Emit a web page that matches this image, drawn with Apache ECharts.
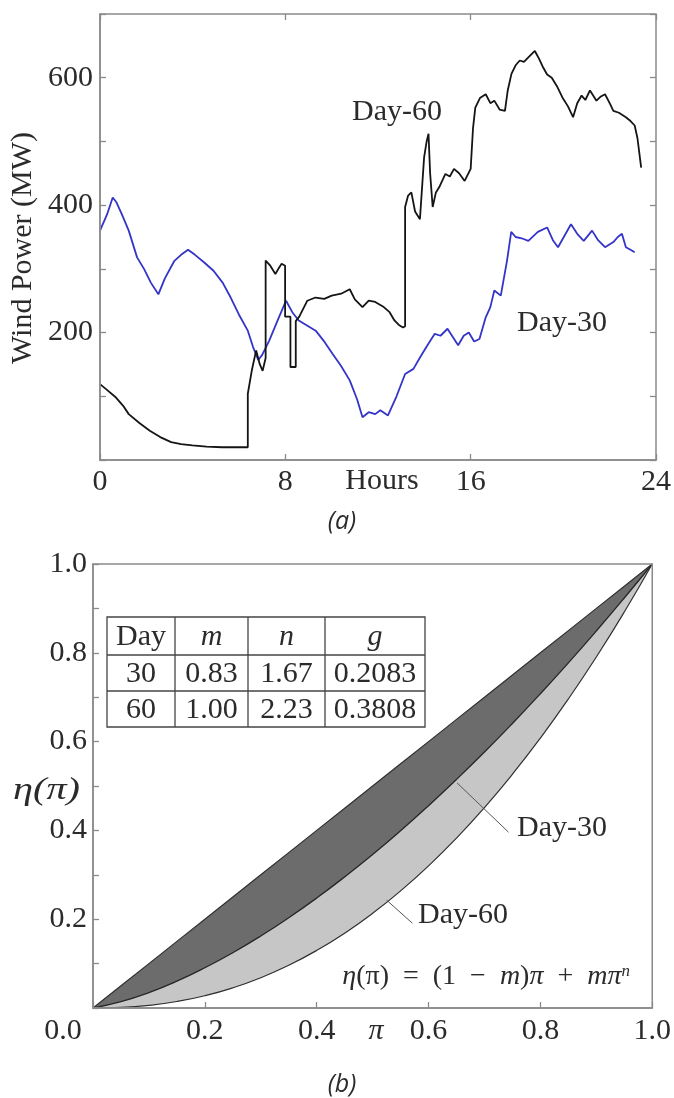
<!DOCTYPE html>
<html><head><meta charset="utf-8">
<script src="https://cdn.jsdelivr.net/npm/echarts@6/dist/echarts.min.js"></script>
<style>html,body{margin:0;padding:0;background:#fff}#c{width:674px;height:1098px}</style>
</head><body><div id="c"></div>
<script>
// ---- Panel (a): wind power over a day ----
const hourTicks = [0, 8, 16, 24];
const powerTickLabels = [200, 400, 600];
const day30Hours = [0,0.3,0.55,0.7,0.95,1.24,1.6,1.9,2.2,2.52,2.8,3.2,3.5,3.8,4.1,4.5,4.9,5.3,5.64,6.0,6.38,6.6,6.83,7.0,7.3,7.7,8.03,8.3,8.58,8.9,9.31,9.7,10.05,10.4,10.78,11.1,11.33,11.6,11.88,12.1,12.43,12.8,13.17,13.53,13.8,14.08,14.45,14.7,15.0,15.25,15.46,15.7,15.92,16.15,16.38,16.65,16.85,17.02,17.3,17.57,17.75,17.94,18.2,18.49,18.9,19.3,19.55,19.77,20.05,20.33,20.6,20.88,21.24,21.5,21.8,22.16,22.35,22.53,22.7,22.9,23.08];
const day30Power = [360,385,412,405,385,360,318,300,278,260,285,312,322,330,322,310,297,278,255,228,203,178,157,165,187,222,250,232,219,212,203,185,166,148,125,95,67,75,72,78,70,100,135,143,160,177,198,195,206,192,180,195,200,186,190,224,240,266,258,313,358,350,348,344,358,365,345,334,352,370,355,344,360,345,334,342,350,355,334,330,326];
const day60Hours = [0,0.3,0.69,1.0,1.24,1.7,2.15,2.6,3.07,3.5,3.99,4.6,5.27,5.9,6.38,6.38,6.55,6.74,6.9,7.02,7.15,7.15,7.35,7.57,7.7,7.84,7.99,7.99,8.22,8.22,8.45,8.45,8.6,8.95,9.3,9.68,10.0,10.41,10.78,11.0,11.33,11.6,11.88,12.25,12.5,12.71,12.9,13.08,13.17,13.17,13.3,13.44,13.6,13.81,13.99,14.1,14.18,14.25,14.36,14.5,14.64,14.91,15.1,15.28,15.5,15.74,16.0,16.1,16.2,16.4,16.65,16.85,17.02,17.25,17.48,17.6,17.76,17.95,18.12,18.3,18.49,18.77,18.95,19.13,19.3,19.5,19.75,19.96,20.2,20.42,20.6,20.79,20.95,21.15,21.43,21.6,21.8,22.0,22.16,22.4,22.7,22.9,23.08,23.2,23.36];
const day60Power = [119,110,98,85,72,58,46,36,28,25,23,21,20,20,20,104,140,172,150,140,160,313,305,292,300,308,305,225,225,146,146,218,225,250,255,253,258,261,268,252,240,250,248,240,232,219,212,208,210,397,415,420,390,378,475,500,512,450,397,420,428,449,445,457,450,438,457,520,553,568,574,560,564,550,548,580,606,620,627,625,632,642,630,616,605,600,585,569,555,538,560,572,565,580,564,570,574,560,548,545,538,532,525,505,459];

// ---- Panel (b): eta(pi) curves ----
const piValues = [0,0.05,0.1,0.15,0.2,0.25,0.3,0.35,0.4,0.45,0.5,0.55,0.6,0.65,0.7,0.75,0.8,0.85,0.9,0.95,1.0];
const etaEquality = [0,0.05,0.1,0.15,0.2,0.25,0.3,0.35,0.4,0.45,0.5,0.55,0.6,0.65,0.7,0.75,0.8,0.85,0.9,0.95,1.0];
const etaDay30 = [0,0.0141,0.0347,0.0604,0.0906,0.1245,0.1621,0.2033,0.2477,0.2953,0.3458,0.3993,0.4557,0.5148,0.5765,0.6409,0.7078,0.7772,0.8491,0.9234,1.0];
const etaDay60 = [0,0.0013,0.0059,0.0146,0.0276,0.0454,0.0682,0.0962,0.1296,0.1685,0.2132,0.2637,0.3201,0.3826,0.4514,0.5265,0.6080,0.6960,0.7906,0.8919,1.0];
const etaTickLabels = ['0.2', '0.4', '0.6', '0.8', '1.0'];
const tableHeader = ['Day', 'm', 'n', 'g'];
const tableRows = [['30', '0.83', '1.67', '0.2083'], ['60', '1.00', '2.23', '0.3808']];

const SERIF = '"Liberation Serif", "DejaVu Serif", serif';
const AX = '#8a8a8a', TXT = '#2b2b2b';
const FS = 30;

const zip = (a, b) => a.map((v, i) => [v, b[i]]);

const chart = echarts.init(document.getElementById('c'), null, {renderer: 'canvas'});

// table graphic
const colX = [107, 175, 248, 325, 425];
const rowY = [617, 655, 691, 727];
const tableEls = [];
tableEls.push({type: 'rect', shape: {x: colX[0], y: rowY[0], width: colX[4] - colX[0], height: rowY[3] - rowY[0]}, style: {fill: '#fff', stroke: '#444', lineWidth: 1.3}, z: 10});
for (let i = 1; i < colX.length - 1; i++) tableEls.push({type: 'line', shape: {x1: colX[i], y1: rowY[0], x2: colX[i], y2: rowY[3]}, style: {stroke: '#444', lineWidth: 1.3}, z: 11});
for (let j = 1; j < rowY.length - 1; j++) tableEls.push({type: 'line', shape: {x1: colX[0], y1: rowY[j], x2: colX[4], y2: rowY[j]}, style: {stroke: '#444', lineWidth: 1.3}, z: 11});
const allRows = [tableHeader].concat(tableRows);
allRows.forEach((row, r) => {
  row.forEach((cell, c) => {
    const italic = r === 0 && c > 0;
    tableEls.push({type: 'text', z: 12, x: (colX[c] + colX[c + 1]) / 2, y: (rowY[r] + rowY[r + 1]) / 2 + 1,
      style: {text: cell, fontSize: FS, fontFamily: SERIF, fontStyle: italic ? 'italic' : 'normal', fill: TXT,
        align: 'center', verticalAlign: 'middle', textAlign: 'center', textVerticalAlign: 'middle'}});
  });
});

function txt(x, y, text, opts, extra) {
  return Object.assign({type: 'text', x: x, y: y, z: 20,
    style: Object.assign({text: text, fontSize: FS, fontFamily: SERIF, fill: TXT, align: 'center', verticalAlign: 'middle', textAlign: 'center', textVerticalAlign: 'middle'}, opts || {})}, extra || {});
}

function tick() { return {show: true, inside: true, length: 6, lineStyle: {color: AX, width: 1.3}}; }
function lbl(o) { return Object.assign({fontSize: FS, fontFamily: SERIF, color: TXT}, o); }
const mainLine = () => ({show: true, onZero: false, lineStyle: {color: AX, width: 1.5}});
const hiddenLine = () => ({show: false, onZero: false});

const option = {
  backgroundColor: '#fff',
  animation: false,
  grid: [
    {left: 100, top: 14, width: 563, height: 446, show: true, borderColor: AX, borderWidth: 1.5, backgroundColor: 'transparent', z: 10},
    {left: 93, top: 564, width: 564, height: 444, show: true, borderColor: AX, borderWidth: 1.5, backgroundColor: 'transparent', z: 10}
  ],
  xAxis: [
    {gridIndex: 0, type: 'value', min: 0, max: 24, interval: 8, position: 'bottom', z: 10,
      axisLine: mainLine(), axisTick: tick(),
      axisLabel: lbl({margin: 7, formatter: v => hourTicks.includes(v) ? String(v) : ''}),
      splitLine: {show: false}},
    {gridIndex: 0, type: 'value', min: 0, max: 24, interval: 8, position: 'top', z: 10,
      axisLine: hiddenLine(), axisTick: tick(), axisLabel: {show: false}, splitLine: {show: false}},
    {gridIndex: 1, type: 'value', min: 0, max: 1, interval: 0.2, position: 'bottom', z: 10,
      axisLine: mainLine(), axisTick: tick(),
      axisLabel: lbl({margin: 8,
        formatter: v => v === 0 ? '{z|0.0}' : v.toFixed(1),
        rich: {z: {fontSize: FS, fontFamily: SERIF, color: TXT, padding: [0, 60, 0, 0]}}}),
      splitLine: {show: false}}
  ],
  yAxis: [
    {gridIndex: 0, type: 'value', min: 0, max: 700, interval: 100, position: 'left', z: 10,
      axisLine: mainLine(), axisTick: tick(),
      axisLabel: lbl({margin: 7, formatter: v => powerTickLabels.includes(v) ? String(v) : ''}),
      splitLine: {show: false}},
    {gridIndex: 0, type: 'value', min: 0, max: 700, interval: 100, position: 'right', z: 10,
      axisLine: hiddenLine(), axisTick: tick(), axisLabel: {show: false}, splitLine: {show: false}},
    {gridIndex: 1, type: 'value', min: 0, max: 1, interval: 0.1, position: 'left', z: 10,
      axisLine: mainLine(), axisTick: tick(),
      axisLabel: lbl({margin: 6, formatter: v => etaTickLabels.includes(v.toFixed(1)) ? v.toFixed(1) : ''}),
      splitLine: {show: false}}
  ],
  series: [
    {name: 'Day-30', type: 'line', xAxisIndex: 0, yAxisIndex: 0, data: zip(day30Hours, day30Power), showSymbol: false,
      lineStyle: {color: '#3434c8', width: 1.8}, z: 3},
    {name: 'Day-60', type: 'line', xAxisIndex: 0, yAxisIndex: 0, data: zip(day60Hours, day60Power), showSymbol: false,
      lineStyle: {color: '#151515', width: 1.8}, z: 4},
    {name: 'equality', type: 'line', xAxisIndex: 2, yAxisIndex: 2, data: zip(piValues, etaEquality), showSymbol: false,
      lineStyle: {color: '#303030', width: 1.2}, areaStyle: {color: '#6c6c6c', opacity: 1}, z: 2},
    {name: 'eta Day-30', type: 'line', xAxisIndex: 2, yAxisIndex: 2, data: zip(piValues, etaDay30), showSymbol: false, smooth: true,
      lineStyle: {color: '#262626', width: 1.3}, areaStyle: {color: '#c6c6c6', opacity: 1}, z: 3},
    {name: 'eta Day-60', type: 'line', xAxisIndex: 2, yAxisIndex: 2, data: zip(piValues, etaDay60), showSymbol: false, smooth: true,
      lineStyle: {color: '#303030', width: 1.2}, areaStyle: {color: '#ffffff', opacity: 1}, z: 4,
      markLine: {silent: true, symbol: 'none', animation: false, label: {show: false},
        lineStyle: {color: '#555', width: 1, type: 'solid'},
        data: [
          [{coord: [0.651, 0.507]}, {coord: [0.743, 0.396]}],
          [{coord: [0.525, 0.243]}, {coord: [0.571, 0.191]}]
        ]}}
  ],
  graphic: [
    txt(23, 248, 'Wind Power (MW)', {}, {rotation: Math.PI / 2}),
    txt(397, 112, 'Day-60'),
    txt(562, 323, 'Day-30'),
    txt(382, 481, 'Hours'),
    txt(376, 1031, 'π', {fontStyle: 'italic'}),
    txt(80, 791, 'η(π)', {fontStyle: 'italic', fontSize: 31, align: 'right', textAlign: 'right'}, {scaleX: 1.3}),
    txt(342, 522, '(a)', {fontFamily: '"Open Sans", sans-serif', fontStyle: 'italic', fontSize: 25}),
    txt(342, 1085, '(b)', {fontFamily: '"Open Sans", sans-serif', fontStyle: 'italic', fontSize: 25}),
    txt(517, 828, 'Day-30', {align: 'left', textAlign: 'left'}),
    txt(418, 915, 'Day-60', {align: 'left', textAlign: 'left'}),
    {type: 'text', x: 630, y: 977, z: 20, style: {
      text: '{i|η}(π)  =  (1  −  {i|m}){i|π}  +  {i|mπ}{s|n}',
      fontSize: 28, fontFamily: SERIF, fill: TXT, align: 'right', verticalAlign: 'middle', textAlign: 'right', textVerticalAlign: 'middle',
      rich: {
        i: {fontSize: 28, fontFamily: SERIF, fontStyle: 'italic', fill: TXT, color: TXT},
        s: {fontSize: 17, fontFamily: SERIF, fontStyle: 'italic', fill: TXT, color: TXT, verticalAlign: 'top'}
      }}},
    {type: 'group', children: tableEls}
  ]
};
chart.setOption(option);
</script></body></html>
